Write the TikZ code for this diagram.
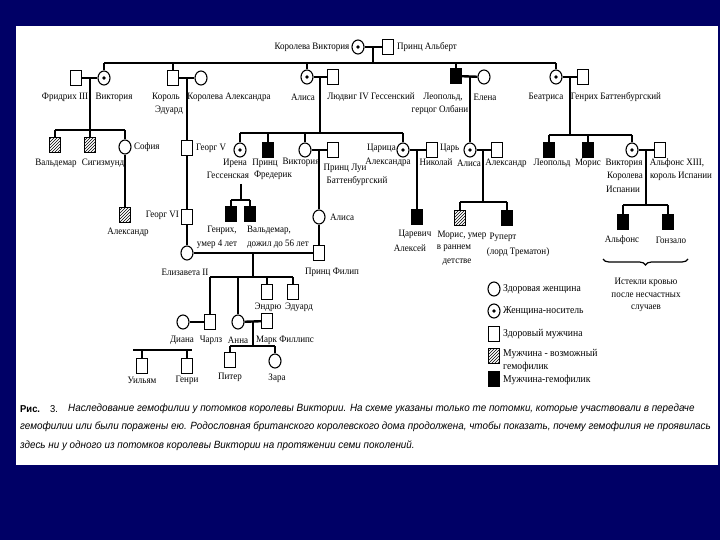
\documentclass[tikz,border=0pt]{standalone}
\usepackage{fontspec}
\newfontfamily\lblfont[FakeStretch=0.92]{Liberation Serif}
\newfontfamily\capfont[FakeStretch=0.94]{Liberation Sans}
\usetikzlibrary{shapes.geometric,patterns,decorations.pathreplacing,calc}
\definecolor{navy}{RGB}{0,0,102}
\begin{document}
\begin{tikzpicture}[x=1pt,y=-1pt,
  fem/.style={draw,ellipse,minimum width=12pt,minimum height=14pt,inner sep=0pt,line width=1.1pt,fill=white},
  car/.style={fem,path picture={\fill[black] (path picture bounding box.center) circle (1.8pt);}},
  mal/.style={draw,rectangle,minimum width=11pt,minimum height=15pt,inner sep=0pt,line width=1.1pt,fill=white},
  aff/.style={mal,fill=black},
  posb/.style={mal,pattern=north east lines},
  lb/.style={font=\lblfont\fontsize{9.8}{10}\selectfont,inner sep=0pt},
  lgt/.style={font=\lblfont\fontsize{10.5}{11}\selectfont,inner sep=0pt,anchor=west},
  ln/.style={line width=1.2pt},
  sib/.style={line width=2pt},
  mar/.style={line width=2.4pt},
  captxt/.style={font=\capfont\itshape\fontsize{10.5}{12}\selectfont,inner sep=0pt,anchor=west}]
\fill[navy] (0,0) rectangle (720,540);
\useasboundingbox (0,0) rectangle (720,540);
\fill[white] (16,26) rectangle (718,465);

% generation 0
\node[car] (qv) at (358,47) {};
\node[mal] (pa) at (388,47) {};
\node[lb] (tqv) at (312,47) {Королева Виктория};
\node[lb,anchor=west] (tpa) at (397,47) {Принц Альберт};
\draw[ln] (qv) -- (pa);
\coordinate (m0) at (373,47);
\coordinate (s0) at (373,63);
\draw[ln] (m0) -- (s0);

% generation 1
\node[mal] (fr) at (76,78) {};
\node[car] (vi) at (104,78) {};
\node[mal] (ed) at (173,78) {};
\node[fem] (qa) at (201,78) {};
\node[car] (ali) at (307,77) {};
\node[mal] (lud) at (333,77) {};
\node[aff] (leo) at (456,76) {};
\node[fem] (hel) at (484,77) {};
\node[car] (bea) at (556,77) {};
\node[mal] (hei) at (583,77) {};
\draw[mar] (vi.north |- s0) -- (bea.north |- s0);
\foreach \n in {vi,ed,ali,leo,bea} \draw[ln] (\n.north |- s0) -- (\n.north);
\draw[mar] (fr) -- (vi);
\draw[mar] (ed) -- (qa);
\draw[mar] (ali) -- (lud);
\draw[mar] (leo) -- (hel);
\draw[mar] (bea) -- (hei);
\node[lb] (t1) at (65,97) {Фридрих III};
\node[lb] (t2) at (114,97) {Виктория};
\node[lb] (t3) at (166,97) {Король};
\node[lb] (t3b) at (169,110) {Эдуард};
\node[lb] (t4) at (229,97) {Королева Александра};
\node[lb] (t5) at (303,97) {Алиса};
\node[lb] (t6) at (371,97) {Людвиг IV Гессенский};
\node[lb] (t7) at (443,97) {Леопольд,};
\node[lb] (t7b) at (440,110) {герцог Олбани};
\node[lb] (t8) at (485,97) {Елена};
\node[lb] (t9) at (546,97) {Беатриса};
\node[lb] (t10) at (616,97) {Генрих Баттенбургский};

% Victoria's children
\coordinate (m1) at (90,78);
\coordinate (s1) at (90,130);
\draw[ln] (m1) -- (s1);
\node[posb] (wal) at (55,145) {};
\node[posb] (sig) at (90,145) {};
\node[fem] (sop) at (125,147) {};
\draw[sib] (wal.north |- s1) -- (sop.north |- s1);
\foreach \n in {wal,sig,sop} \draw[ln] (\n.north |- s1) -- (\n.north);
\node[posb] (alx1) at (125,215) {};
\draw[ln] (sop) -- (alx1);
\node[lb] (t11) at (56,163) {Вальдемар};
\node[lb] (t12) at (103,163) {Сигизмунд};
\node[lb,anchor=west] (t13) at (134,147) {София};
\node[lb] (t14) at (128,232) {Александр};

% Edward's line
\coordinate (m2) at (187,78);
\node[mal] (g5) at (187,148) {};
\node[mal] (g6) at (187,217) {};
\node[fem] (eli) at (187,253) {};
\draw[ln] (m2) -- (g5);
\draw[mar] (g5) -- (g6);
\draw[ln] (g6) -- (eli);
\node[lb,anchor=west] (t15) at (196,148) {Георг V};
\node[lb,anchor=east] (t16) at (179,215) {Георг VI};

% Alice's children
\coordinate (m3) at (320,77);
\coordinate (s3) at (320,133);
\draw[ln] (m3) -- (s3);
\node[car] (ire) at (240,150) {};
\node[aff] (fre) at (268,150) {};
\node[fem] (vi2) at (305,150) {};
\node[mal] (lui) at (333,150) {};
\node[car] (tsa) at (403,150) {};
\node[mal] (nik) at (432,150) {};
\draw[sib] (ire.north |- s3) -- (tsa.north |- s3);
\foreach \n in {ire,fre,vi2,tsa} \draw[ln] (\n.north |- s3) -- (\n.north);
\draw[mar] (vi2) -- (lui);
\draw[mar] (tsa) -- (nik);
\coordinate (m4) at (319,150);
\node[fem] (ab) at (319,217) {};
\node[mal] (phi) at (319,253) {};
\draw[ln] (m4) -- (ab);
\draw[ln] (ab) -- (phi);
\coordinate (m5) at (417,150);
\node[aff] (alk) at (417,217) {};
\draw[ln] (m5) -- (alk);
\coordinate (m6) at (241,184);
\coordinate (s6) at (241,200);
\node[aff] (hen) at (231,214) {};
\node[aff] (wdm) at (250,214) {};
\draw[ln] (m6) -- (s6);
\draw[sib] (hen.north |- s6) -- (wdm.north |- s6);
\foreach \n in {hen,wdm} \draw[ln] (\n.north |- s6) -- (\n.north);
\node[lb] (t17) at (235,163) {Ирена};
\node[lb] (t18) at (228,175) {Гессенская};
\node[lb] (t19) at (265,163) {Принц};
\node[lb] (t20) at (273,175) {Фредерик};
\node[lb] (t21) at (301,162) {Виктория};
\node[lb] (t22) at (345,168) {Принц Луи};
\node[lb] (t23) at (357,181) {Баттенбургский};
\node[lb,anchor=west] (t24) at (330,217) {Алиса};
\node[lb,anchor=east] (t25) at (396,148) {Царица};
\node[lb] (t26) at (388,162) {Александра};
\node[lb,anchor=west] (t27) at (440,148) {Царь};
\node[lb] (t28) at (436,162) {Николай};
\node[lb] (t29) at (415,234) {Царевич};
\node[lb] (t30) at (410,248) {Алексей};
\node[lb] (t31) at (222,230) {Генрих,};
\node[lb] (t32) at (269,230) {Вальдемар,};
\node[lb] (t33) at (217,244) {умер 4 лет};
\node[lb] (t34) at (278,244) {дожил до 56 лет};

% Leopold's line
\coordinate (m7) at (470,77);
\node[car] (alb) at (470,150) {};
\node[mal] (axr) at (497,150) {};
\draw[ln] (m7) -- (alb);
\draw[mar] (alb) -- (axr);
\coordinate (m8) at (483,150);
\coordinate (s8) at (483,202);
\node[posb] (mor) at (460,218) {};
\node[aff] (rup) at (507,218) {};
\draw[ln] (m8) -- (s8);
\draw[sib] (mor.north |- s8) -- (rup.north |- s8);
\foreach \n in {mor,rup} \draw[ln] (\n.north |- s8) -- (\n.north);
\node[lb] (t35) at (469,163) {Алиса};
\node[lb] (t36) at (506,163) {Александр};
\node[lb] (t37) at (462,235) {Морис, умер};
\node[lb] (t38) at (454,248) {в раннем};
\node[lb] (t39) at (457,262) {детстве};
\node[lb] (t40) at (503,237) {Руперт};
\node[lb] (t41) at (518,252) {(лорд Трематон)};

% Beatrice's line
\coordinate (m9) at (570,77);
\coordinate (s9) at (570,135);
\draw[ln] (m9) -- (s9);
\node[aff] (ble) at (549,150) {};
\node[aff] (bmo) at (588,150) {};
\node[car] (ves) at (632,150) {};
\node[mal] (alf) at (660,150) {};
\draw[sib] (ble.north |- s9) -- (ves.north |- s9);
\foreach \n in {ble,bmo,ves} \draw[ln] (\n.north |- s9) -- (\n.north);
\draw[mar] (ves) -- (alf);
\coordinate (m10) at (646,150);
\coordinate (s10) at (646,205);
\node[aff] (afs) at (623,222) {};
\node[aff] (gon) at (668,222) {};
\draw[ln] (m10) -- (s10);
\draw[sib] (afs.north |- s10) -- (gon.north |- s10);
\foreach \n in {afs,gon} \draw[ln] (\n.north |- s10) -- (\n.north);
\node[lb] (t42) at (552,163) {Леопольд};
\node[lb] (t43) at (588,163) {Морис};
\node[lb] (t44) at (624,163) {Виктория};
\node[lb] (t45) at (625,176) {Королева};
\node[lb] (t46) at (623,189) {Испании};
\node[lb] (t47) at (677,163) {Альфонс XIII,};
\node[lb] (t48) at (681,176) {король Испании};
\node[lb] (t49) at (622,240) {Альфонс};
\node[lb] (t50) at (671,240) {Гонзало};
\coordinate (b1) at (603,259);
\coordinate (b2) at (688,259);
\draw[ln,decorate,decoration={brace,mirror,amplitude=6pt}] (b1) -- (b2);
\node[lb] (t51) at (646,282) {Истекли кровью};
\node[lb] (t52) at (646,295) {после несчастных};
\node[lb] (t53) at (646,308) {случаев};

% Elizabeth II
\draw[mar] (eli) -- (phi);
\coordinate (m11) at (253,253);
\coordinate (s11) at (253,277);
\draw[ln] (m11) -- (s11);
\node[mal] (chs) at (210,322) {};
\node[fem] (dia) at (183,322) {};
\node[fem] (ann) at (238,322) {};
\node[mal] (mrk) at (267,321) {};
\node[mal] (adr) at (267,292) {};
\node[mal] (edw) at (293,292) {};
\draw[sib] (chs.north |- s11) -- (edw.north |- s11);
\foreach \n in {chs,ann,adr,edw} \draw[ln] (\n.north |- s11) -- (\n.north);
\draw[mar] (dia) -- (chs);
\draw[mar] (ann) -- (mrk);
\coordinate (s12a) at (133,350);
\coordinate (s12b) at (192,350);
\node[mal] (wil) at (142,366) {};
\node[mal] (har) at (187,366) {};
\draw[ln] (s12a) -- (s12b);
\foreach \n in {wil,har} \draw[ln] (\n.north |- s12a) -- (\n.north);
\coordinate (m13) at (253,322);
\coordinate (s13) at (253,346);
\node[mal] (pet) at (230,360) {};
\node[fem] (zar) at (275,361) {};
\draw[ln] (m13) -- (s13);
\draw[sib] (pet.north |- s13) -- (zar.north |- s13);
\foreach \n in {pet,zar} \draw[ln] (\n.north |- s13) -- (\n.north);
\node[lb] (t54) at (185,272) {Елизавета II};
\node[lb] (t55) at (332,272) {Принц Филип};
\node[lb] (t56) at (268,307) {Эндрю};
\node[lb] (t57) at (299,307) {Эдуард};
\node[lb] (t58) at (182,340) {Диана};
\node[lb] (t59) at (211,340) {Чарлз};
\node[lb] (t60) at (238,340) {Анна};
\node[lb,anchor=west] (t61) at (256,340) {Марк Филлипс};
\node[lb] (t62) at (142,380) {Уильям};
\node[lb] (t63) at (187,380) {Генри};
\node[lb] (t64) at (230,377) {Питер};
\node[lb] (t65) at (277,378) {Зара};

% legend
\node[fem] (lg1) at (494,289) {};
\node[car] (lg2) at (494,311) {};
\node[mal] (lg3) at (494,334) {};
\node[posb] (lg4) at (494,356) {};
\node[aff] (lg5) at (494,379) {};
\node[lgt] (lt1) at (503,289) {Здоровая женщина};
\node[lgt] (lt2) at (503,311) {Женщина-носитель};
\node[lgt] (lt3) at (503,334) {Здоровый мужчина};
\node[lgt] (lt4) at (503,354) {Мужчина - возможный};
\node[lgt] (lt4b) at (503,367) {гемофилик};
\node[lgt] (lt5) at (503,380) {Мужчина-гемофилик};

% caption
\node[captxt,font=\capfont\bfseries\fontsize{10}{12}\selectfont] (c0) at (20,409) {Рис.};
\node[captxt,font=\capfont\fontsize{10}{12}\selectfont] (c0b) at (50,409) {3.};
\node[captxt] (c1) at (68,409) {Наследование гемофилии у потомков королевы Виктории. На схеме указаны только те потомки, которые участвовали в передаче};
\node[captxt] (c2) at (20,427) {гемофилии или были поражены ею. Родословная британского королевского дома продолжена, чтобы показать, почему гемофилия не проявилась};
\node[captxt] (c3) at (20,446) {здесь ни у одного из потомков королевы Виктории на протяжении семи поколений.};
\end{tikzpicture}
\end{document}
